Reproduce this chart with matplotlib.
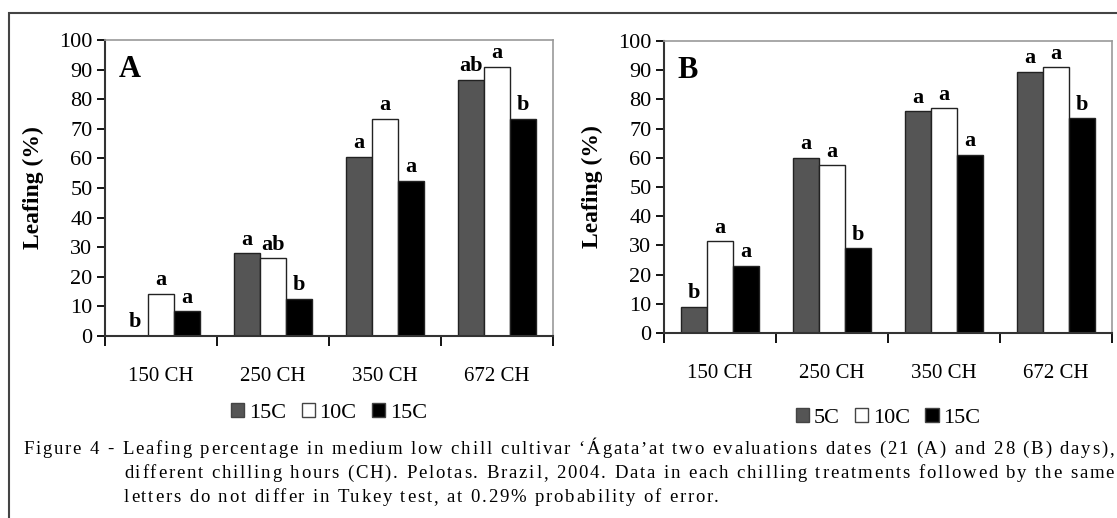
import matplotlib
matplotlib.use("Agg")
from matplotlib import pyplot as plt
from matplotlib.patches import Patch, Rectangle
from matplotlib.font_manager import FontProperties
from matplotlib.transforms import blended_transform_factory
import numpy as np

plt.rcParams['font.family'] = ['Liberation Serif', 'DejaVu Serif']

categories = ['150 CH', '250 CH', '350 CH', '672 CH']

# panel A (21 days)
a_gray = [0, 28, 60.5, 86.5]
a_white = [14.3, 26.3, 73.3, 91]
a_black = [8.3, 12.5, 52.5, 73.3]
a_gray_let = ['b', 'a', 'a', 'ab']
a_white_let = ['a', 'ab', 'a', 'a']
a_black_let = ['a', 'b', 'a', 'b']
a_legend = ['15C', '10C', '15C']

# panel B (28 days)
b_gray = [9, 60, 76, 89.5]
b_white = [31.5, 57.5, 77, 91]
b_black = [23, 29, 61, 73.5]
b_gray_let = ['b', 'a', 'a', 'a']
b_white_let = ['a', 'a', 'a', 'a']
b_black_let = ['a', 'b', 'a', 'b']
b_legend = ['5C', '10C', '15C']

caption = ["Figure 4 - Leafing percentage in medium low chill cultivar \u2018\u00c1gata\u2019at two evaluations dates (21 (A) and 28 (B) days),",
           "different chilling hours (CH). Pelotas. Brazil, 2004. Data in each chilling treatments followed by the same",
           "letters do not differ in Tukey test, at 0.29% probability of error."]

colors = ['#555555', 'white', 'black']
W, H = 1117, 518
fig = plt.figure(figsize=(W / 100, H / 100), dpi=100)


def panel(rect, series, letters, legend_labels, tag, leg_y):
    ax = fig.add_axes(rect)
    x = np.arange(len(categories))
    bw = 0.23
    for i, (vals, lets) in enumerate(zip(series, letters)):
        pos = x + (i - 1) * bw
        ax.bar(pos, vals, width=bw, color=colors[i], edgecolor='#222222', linewidth=1.0, zorder=2)
        for p, v, t in zip(pos, vals, lets):
            ax.text(p, v + 1.2, t, ha='center', va='bottom', fontsize=16, fontweight='bold')
    ax.set_xlim(-0.5, 3.5)
    ax.set_ylim(0, 100)
    ax.set_yticks(range(0, 101, 10))
    ax.set_xticks(np.arange(-0.5, 4, 1))
    ax.set_xticklabels([])
    ax.set_xticks(x, minor=True)
    ax.set_xticklabels(categories, minor=True)
    ax.tick_params(axis='x', which='major', length=7, width=1.3, direction='out')
    ax.tick_params(axis='x', which='minor', length=0, pad=22, labelsize=15)
    ax.tick_params(axis='y', length=6, width=1.3, direction='out', labelsize=16, pad=3)
    for s in ['top', 'right']:
        ax.spines[s].set_color('#999999')
        ax.spines[s].set_linewidth(1.2)
    for s in ['left', 'bottom']:
        ax.spines[s].set_color('#333333')
        ax.spines[s].set_linewidth(1.5)
    ax.set_ylabel('Leafing (%)', fontsize=17, fontweight='bold', labelpad=11)
    ax.text(0.03, 0.9, tag, transform=ax.transAxes, fontsize=22, fontweight='bold', va='center')
    handles = [Patch(facecolor=c, edgecolor='#444444') for c in colors]
    tr = blended_transform_factory(ax.transAxes, fig.transFigure)
    ax.legend(handles, legend_labels, ncol=3, frameon=False, fontsize=16,
              loc='center', bbox_to_anchor=(0.5, leg_y), bbox_transform=tr,
              handlelength=0.6, handleheight=0.6, handletextpad=0.2, columnspacing=0.7,
              borderpad=0)
    return ax


panel([105 / W, 1 - 336 / H, 448 / W, 296 / H],
      [a_gray, a_white, a_black], [a_gray_let, a_white_let, a_black_let], a_legend, 'A', 1 - 413 / H)
panel([664 / W, 1 - 333 / H, 448 / W, 292 / H],
      [b_gray, b_white, b_black], [b_gray_let, b_white_let, b_black_let], b_legend, 'B', 1 - 418 / H)

# outer frame
fig.add_artist(Rectangle((9 / W, -0.05), 1.2, (H - 13) / H + 0.05, transform=fig.transFigure,
                         fill=False, edgecolor='#444444', linewidth=1.5))

# caption: slightly letter-spaced, justified lines like the printed figure
renderer = fig.canvas.get_renderer()
fp = FontProperties(family='Liberation Serif', size=13.5)


def ink_width(s):
    w, h, d = renderer.get_text_width_height_descent(s, fp, ismath=False)
    return w


def tracked_line(s, x0, x1, y, track=None):
    # right ink edge of every prefix gives the natural position of each glyph
    lefts = []
    for i, c in enumerate(s):
        if c == ' ':
            lefts.append(None)
            continue
        lefts.append(ink_width(s[:i + 1]) - ink_width(c))
    n = len(s)
    if track is None:
        track = ((x1 - x0) - ink_width(s)) / (n - 1)
    for i, c in enumerate(s):
        if lefts[i] is None:
            continue
        fig.text((x0 + lefts[i] + i * track) / W, 1 - y / H, c, fontproperties=fp,
                 ha='left', va='baseline')
    return track


tracked_line(caption[0], 23, 1114, 454)
t2 = tracked_line(caption[1], 124, 1114, 478)
tracked_line(caption[2], 124, None, 502, track=t2)

fig.savefig('out.png', dpi=100)
